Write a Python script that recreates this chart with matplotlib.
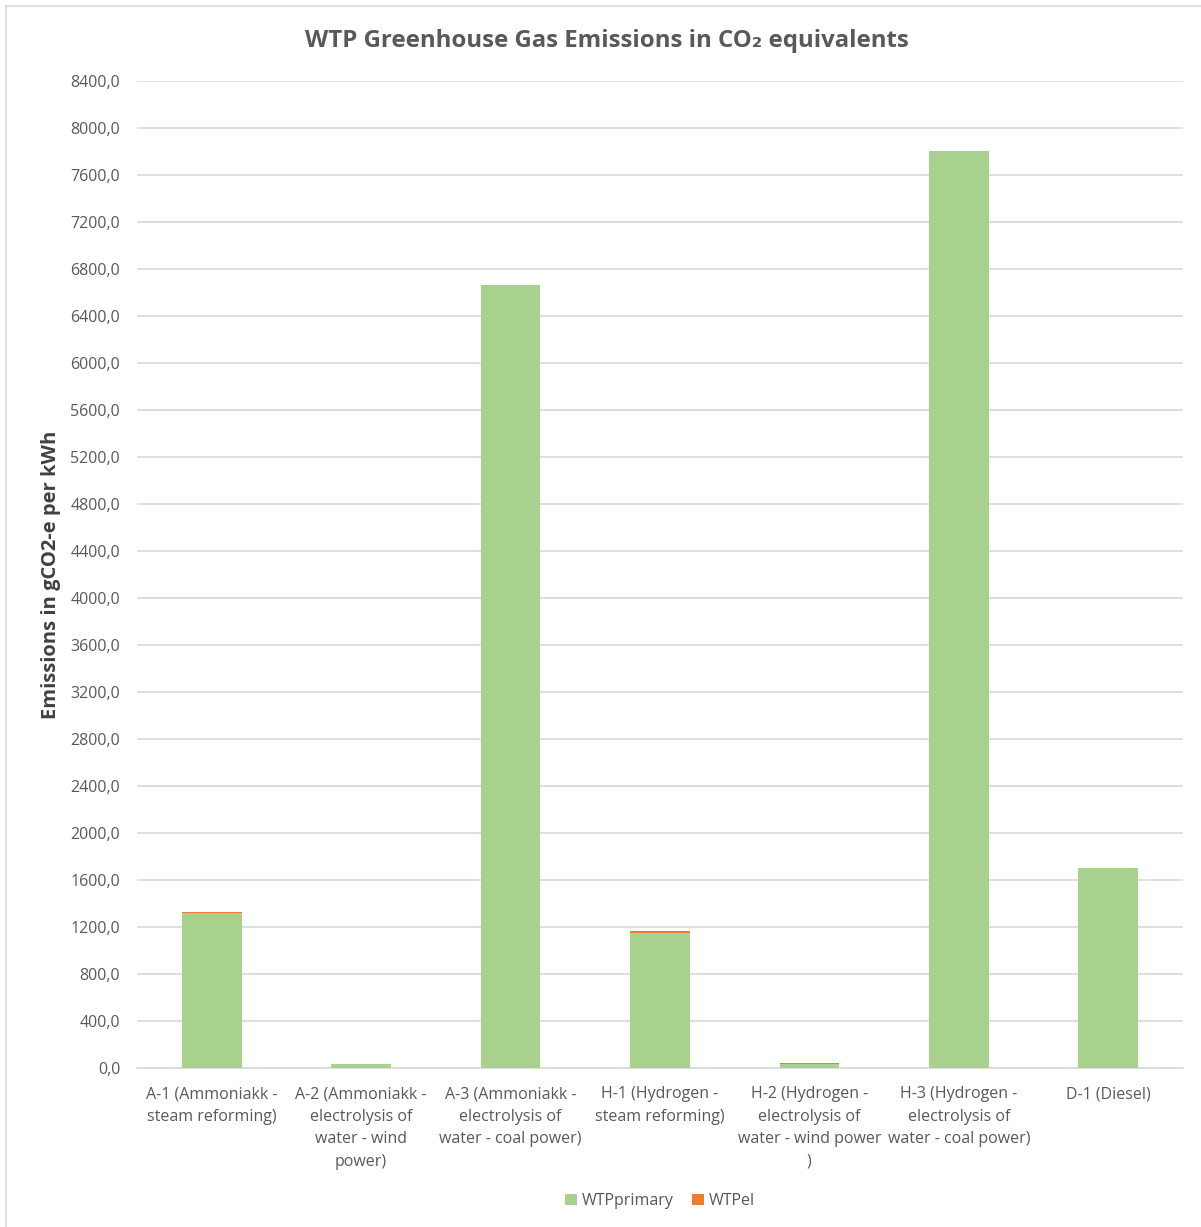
import numpy as np
import matplotlib.pyplot as plt
from matplotlib.lines import Line2D
from matplotlib.ticker import FuncFormatter

plt.rcParams['font.family'] = ['Open Sans', 'DejaVu Sans']

# Well-to-propeller emissions per fuel pathway (gCO2-e per kWh)
categories = [
    "A-1 (Ammoniakk -\nsteam reforming)",
    "A-2 (Ammoniakk -\nelectrolysis of\nwater - wind\npower)",
    "A-3 (Ammoniakk -\nelectrolysis of\nwater - coal power)",
    "H-1 (Hydrogen -\nsteam reforming)",
    "H-2 (Hydrogen -\nelectrolysis of\nwater - wind power\n)",
    "H-3 (Hydrogen -\nelectrolysis of\nwater - coal power)",
    "D-1 (Diesel)",
]
wtp_primary = [1320.0, 30.0, 6660.0, 1150.0, 38.0, 7800.0, 1705.0]
wtp_el = [8.0, 1.0, 3.0, 18.0, 1.0, 3.0, 0.0]

green = "#A9D18E"
orange = "#ED7D31"
grey_text = "#595959"
grid_col = "#D9D9D9"

fig = plt.figure(figsize=(12.01, 12.27), dpi=100)
ax = fig.add_axes([0.114, 0.1296, 0.871, 0.8044])

x = np.arange(len(categories))
ax.bar(x, wtp_primary, width=0.4, color=green, label="WTPprimary", zorder=3)
ax.bar(x, wtp_el, width=0.4, bottom=wtp_primary, color=orange, label="WTPel", zorder=3)

ax.set_xlim(-0.5, len(categories) - 0.5)
ax.set_ylim(0, 8400)
ax.set_yticks(np.arange(0, 8401, 400))
ax.yaxis.set_major_formatter(FuncFormatter(lambda v, p: f"{v:.1f}".replace(".", ",")))
ax.grid(axis="y", color=grid_col, linewidth=1.2, zorder=0)

ax.set_xticks(x)
ax.set_xticklabels(categories, fontsize=11.5, color=grey_text, linespacing=1.55, va="top")
ax.tick_params(axis="both", length=0, colors=grey_text, labelsize=11.5)
ax.tick_params(axis="x", pad=13)
ax.tick_params(axis="y", pad=12)

for side in ["top", "right", "left"]:
    ax.spines[side].set_visible(False)
ax.spines["bottom"].set_color(grid_col)
ax.spines["bottom"].set_linewidth(1.2)

ax.set_ylabel("Emissions in gCO2-e per kWh", fontsize=14.5, fontweight="bold",
              color="#404040", labelpad=7)

fig.text(0.505, 0.9665, "WTP Greenhouse Gas Emissions in CO₂ equivalents",
         ha="center", va="center", fontsize=17.3, fontweight="bold", color=grey_text)

ax.legend(loc="center", bbox_to_anchor=(0.5, -0.135), ncol=2, frameon=False,
          fontsize=11.5, labelcolor=grey_text, handlelength=0.7, handleheight=0.7,
          handletextpad=0.3, columnspacing=1.2)

# thin frame along the top and left edge
fig.add_artist(Line2D([0.005, 1.0], [0.9955, 0.9955], color="#E0E0E0", linewidth=1.5))
fig.add_artist(Line2D([0.005, 0.005], [0.0, 0.9955], color="#E0E0E0", linewidth=1.5))

fig.savefig("out.png", dpi=100, facecolor="white")
